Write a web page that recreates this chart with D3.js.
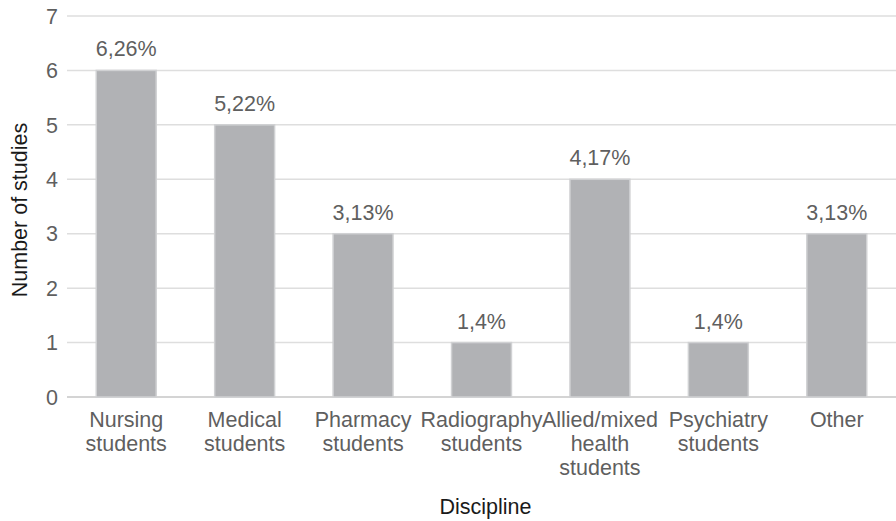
<!DOCTYPE html>
<html><head><meta charset="utf-8">
<script src="https://cdn.jsdelivr.net/npm/d3@7"></script>
<style>body{margin:0;background:#fff}svg{display:block}text{font-family:"Liberation Sans",Arial,sans-serif}</style>
</head><body>
<svg id="c" width="896" height="521"></svg>
<script>
const categories = ["Nursing students","Medical students","Pharmacy students","Radiography students","Allied/mixed health students","Psychiatry students","Other"];
const categoryLines = [["Nursing","students"],["Medical","students"],["Pharmacy","students"],["Radiography","students"],["Allied/mixed","health","students"],["Psychiatry","students"],["Other"]];
const values = [6,5,3,1,4,1,3];
const valueLabels = ["6,26%","5,22%","3,13%","1,4%","4,17%","1,4%","3,13%"];
const yTicks = [0,1,2,3,4,5,6,7];

const FS = 21.5;
const svg = d3.select("#c");
const m = {l:67, r:896, t:16, b:397};
const x = d3.scaleBand().domain(categories).range([m.l, m.r]).paddingInner(0.494).paddingOuter(0.247);
const y = d3.scaleLinear().domain([0,7]).range([m.b, m.t]);

svg.append("g").selectAll("line").data(yTicks).join("line")
  .attr("x1", m.l).attr("x2", m.r)
  .attr("y1", d=>y(d)).attr("y2", d=>y(d))
  .attr("stroke", d=> d===0 ? "#d4d4d4" : "#dedede").attr("stroke-width", d=> d===0?2:1.5);

svg.append("g").selectAll("text").data(yTicks).join("text")
  .attr("x", 58).attr("y", d=>y(d)).attr("dy","0.36em")
  .attr("text-anchor","end").attr("font-size",FS).attr("fill","#5f5f5f")
  .text(d=>d);

svg.append("g").selectAll("rect").data(values).join("rect")
  .attr("x", (d,i)=>x(categories[i])).attr("width", x.bandwidth())
  .attr("y", d=>y(d)).attr("height", d=>y(0)-y(d))
  .attr("fill","#b1b2b5").attr("stroke","#d0d1d3").attr("stroke-width",1.5);

svg.append("g").selectAll("text").data(values).join("text")
  .attr("x", (d,i)=>x(categories[i])+x.bandwidth()/2).attr("y", d=>y(d)-14)
  .attr("text-anchor","middle").attr("font-size",FS).attr("fill","#5f5f5f")
  .text((d,i)=>valueLabels[i]);

const cg = svg.append("g");
categories.forEach((c,i)=>{
  const t = cg.append("text").attr("text-anchor","middle").attr("font-size",FS).attr("fill","#5f5f5f")
    .attr("x", x(c)+x.bandwidth()/2).attr("y", 427);
  categoryLines[i].forEach((ln,j)=>{
    t.append("tspan").attr("x", x(c)+x.bandwidth()/2).attr("dy", j===0?0:24).text(ln);
  });
});

svg.append("text").attr("x", (m.l+m.r)/2 + 4).attr("y", 514).attr("text-anchor","middle")
  .attr("font-size",FS).attr("fill","#1a1a1a").text("Discipline");
svg.append("text").attr("transform","translate(27,210) rotate(-90)").attr("text-anchor","middle")
  .attr("font-size",FS).attr("fill","#1a1a1a").text("Number of studies");
</script>
</body></html>
